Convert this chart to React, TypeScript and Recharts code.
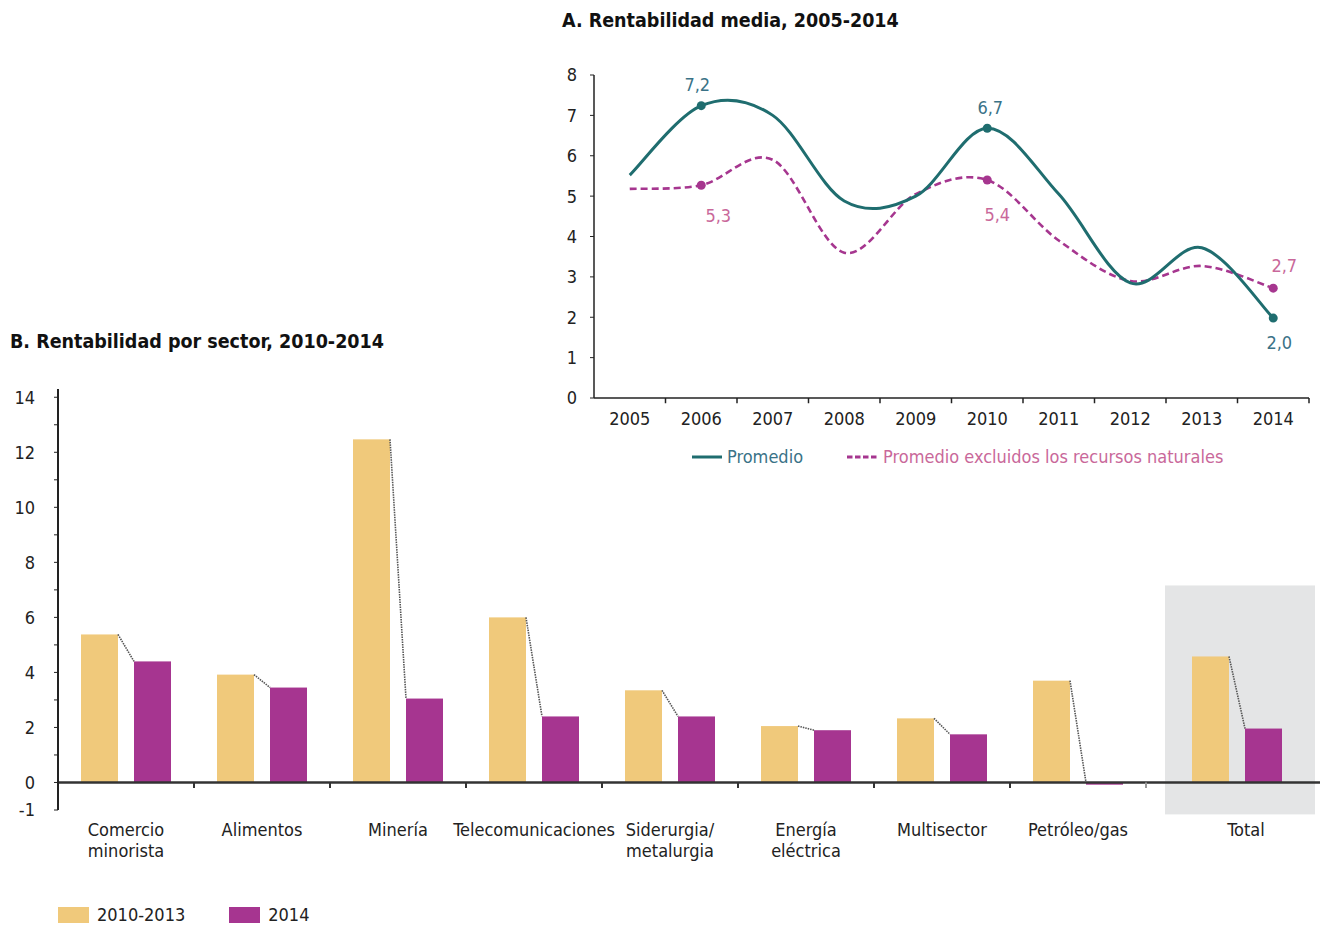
import React from "react";
import {
  LineChart,
  Line,
  BarChart,
  Bar,
  XAxis,
  YAxis,
  ReferenceLine,
  ReferenceArea,
  LabelList,
} from "recharts";

const FONT = '"Liberation Sans Narrow", "DejaVu Sans Condensed", "Arial Narrow", sans-serif';

// A. Rentabilidad media, 2005-2014
const YEARS = ["2005", "2006", "2007", "2008", "2009", "2010", "2011", "2012", "2013", "2014"];
const PROMEDIO = [5.52, 7.24, 7.0, 4.88, 5.0, 6.68, 5.05, 2.85, 3.72, 1.98];
const PROMEDIO_SIN_RRNN = [5.18, 5.27, 5.9, 3.6, 5.05, 5.4, 3.9, 2.9, 3.27, 2.72];
const A_TICKS = [0, 1, 2, 3, 4, 5, 6, 7, 8];
const LABELED_YEARS = ["2006", "2010", "2014"];

// B. Rentabilidad por sector, 2010-2014
const SECTORS = [
  "Comercio\nminorista",
  "Alimentos",
  "Minería",
  "Telecomunicaciones",
  "Siderurgia/\nmetalurgia",
  "Energía\neléctrica",
  "Multisector",
  "Petróleo/gas",
  "Total",
];
const R_2010_2013 = [5.38, 3.92, 12.47, 6.0, 3.35, 2.05, 2.33, 3.7, 4.58];
const R_2014 = [4.4, 3.45, 3.05, 2.4, 2.4, 1.9, 1.75, -0.08, 1.96];
const B_TICKS = [-1, 0, 1, 2, 3, 4, 5, 6, 7, 8, 9, 10, 11, 12, 13, 14];

const TEAL = "#1f6d6f";
const TEAL_TEXT = "#3a7287";
const MAGENTA = "#a6368f";
const PINK_TEXT = "#c9689a";
const YELLOW = "#f0c97b";
const PURPLE = "#a63590";

const BAR_SIZE = 37;
const BAR_GAP = 16;
const TOTAL_SHIFT = 23;
const FS = 18;

const lineData = YEARS.map((year, i) => ({
  year,
  promedio: PROMEDIO[i],
  sinRrnn: PROMEDIO_SIN_RRNN[i],
}));

const barData = SECTORS.map((sector, i) => ({
  sector,
  v1013: R_2010_2013[i],
  v14: R_2014[i],
}));

// excel-like smoothing (catmull-rom through the points)
const excelSmooth = (context: any) => {
  let pts: number[][] = [];
  return {
    areaStart() {},
    areaEnd() {},
    lineStart() {
      pts = [];
    },
    point(x: number, y: number) {
      pts.push([+x, +y]);
    },
    lineEnd() {
      if (!pts.length) return;
      context.moveTo(pts[0][0], pts[0][1]);
      for (let i = 0; i < pts.length - 1; i++) {
        const p0 = pts[Math.max(i - 1, 0)];
        const p1 = pts[i];
        const p2 = pts[i + 1];
        const p3 = pts[Math.min(i + 2, pts.length - 1)];
        context.bezierCurveTo(
          p1[0] + (p2[0] - p0[0]) / 6,
          p1[1] + (p2[1] - p0[1]) / 6,
          p2[0] - (p3[0] - p1[0]) / 6,
          p2[1] - (p3[1] - p1[1]) / 6,
          p2[0],
          p2[1]
        );
      }
    },
  };
};

const fmt = (v: number) => v.toFixed(1).replace(".", ",");

const makeDot = (color: string) => (p: any) =>
  LABELED_YEARS.includes(p.payload?.year) ? (
    <circle key={`dot-${p.index}`} cx={p.cx} cy={p.cy} r={4.5} fill={color} />
  ) : (
    <g key={`dot-${p.index}`} />
  );

const makeLabel =
  (color: string, offsets: Record<string, [number, number]>) => (p: any) => {
    const year = YEARS[p.index];
    if (!offsets[year]) return null;
    const [dx, dy] = offsets[year];
    return (
      <text
        x={p.x + dx}
        y={p.y + dy}
        fill={color}
        textAnchor="middle"
        dominantBaseline="central"
        fontSize={FS}
        fontFamily={FONT}
      >
        {fmt(Number(p.value))}
      </text>
    );
  };

const TEAL_LABELS: Record<string, [number, number]> = {
  "2006": [-4, -21],
  "2010": [3, -21],
  "2014": [6, 24],
};
const PINK_LABELS: Record<string, [number, number]> = {
  "2006": [17, 30],
  "2010": [10, 35],
  "2014": [11, -23],
};

const SectorTick = ({ x, y, payload }: any) => {
  const lines = String(payload.value).split("\n");
  const cx = payload.value === "Total" ? x + 32 : x;
  return (
    <text x={cx} y={y} textAnchor="middle" fill="#222" fontSize={FS} fontFamily={FONT}>
      {lines.map((l, i) => (
        <tspan key={i} x={cx} dy={i === 0 ? 18 : 21}>
          {l}
        </tspan>
      ))}
    </text>
  );
};

const FirstBar = (props: any) => {
  const { x, y, width, height, payload } = props;
  const shift = payload.sector === "Total" ? TOTAL_SHIFT : 0;
  const unit = height / payload.v1013;
  const base = y + height;
  const y2 = base - Math.max(payload.v14, 0) * unit;
  const x2 = x + width + BAR_GAP;
  return (
    <g>
      <rect x={x + shift} y={y} width={width} height={height} fill={YELLOW} />
      <line
        x1={x + width + shift}
        y1={y}
        x2={x2 + shift}
        y2={y2}
        stroke="#555"
        strokeWidth={1.6}
        strokeDasharray="1.5 1"
      />
    </g>
  );
};

const SecondBar = (props: any) => {
  const { x, y, width, height, payload } = props;
  const shift = payload.sector === "Total" ? TOTAL_SHIFT : 0;
  return (
    <rect
      x={x + shift}
      y={Math.min(y, y + height)}
      width={width}
      height={Math.max(Math.abs(height), 2)}
      fill={PURPLE}
    />
  );
};

const TotalBox = (props: any) => {
  const { x, y, width, height } = props;
  return <rect x={x + 19} y={y} width={width + 14} height={height} fill="#e4e5e6" />;
};

const tickStyle = { fill: "#222", fontSize: FS, fontFamily: FONT };

export default function App() {
  return (
    <div style={{ position: "relative", width: 1314, height: 918, fontFamily: FONT }}>
      <div
        style={{
          position: "absolute",
          left: 554,
          top: 1,
          fontSize: 19.5,
          fontWeight: "bold",
          color: "#111",
        }}
      >
        A. Rentabilidad media, 2005-2014
      </div>

      <div style={{ position: "absolute", left: 532, top: 52 }}>
        <LineChart
          width={781}
          height={380}
          data={lineData}
          margin={{ top: 15, right: 12, left: 0, bottom: 0 }}
        >
          <XAxis
            dataKey="year"
            scale="band"
            axisLine={{ stroke: "#222", strokeWidth: 1.5 }}
            tickLine={false}
            tickSize={0}
            tickMargin={14}
            height={42}
            interval={0}
            tick={tickStyle}
          />
          <YAxis
            domain={[0, 8]}
            ticks={A_TICKS}
            interval={0}
            width={54}
            axisLine={{ stroke: "#222", strokeWidth: 1.5 }}
            tickLine={{ stroke: "#222" }}
            tickSize={4}
            tickMargin={13}
            tick={tickStyle}
          />
          {YEARS.slice(1).map((yr) => (
            <ReferenceLine
              key={`ta-${yr}`}
              segment={[
                { x: yr, y: 0 },
                { x: yr, y: -0.13 },
              ]}
              position="start"
              ifOverflow="visible"
              stroke="#222"
              strokeWidth={1.5}
            />
          ))}
          <ReferenceLine
            segment={[
              { x: YEARS[YEARS.length - 1], y: 0 },
              { x: YEARS[YEARS.length - 1], y: -0.13 },
            ]}
            position="end"
            ifOverflow="visible"
            stroke="#222"
            strokeWidth={1.5}
          />
          <Line
            dataKey="sinRrnn"
            type={excelSmooth as any}
            stroke={MAGENTA}
            strokeWidth={2.6}
            strokeDasharray="7 4"
            dot={makeDot(MAGENTA)}
            activeDot={false}
            isAnimationActive={false}
          >
            <LabelList dataKey="sinRrnn" content={makeLabel(PINK_TEXT, PINK_LABELS)} />
          </Line>
          <Line
            dataKey="promedio"
            type={excelSmooth as any}
            stroke={TEAL}
            strokeWidth={3}
            dot={makeDot(TEAL)}
            activeDot={false}
            isAnimationActive={false}
          >
            <LabelList dataKey="promedio" content={makeLabel(TEAL_TEXT, TEAL_LABELS)} />
          </Line>
        </LineChart>
      </div>

      <div
        style={{
          position: "absolute",
          left: 684,
          top: 438,
          display: "flex",
          alignItems: "center",
          fontSize: FS,
          lineHeight: "22px",
          whiteSpace: "nowrap",
        }}
      >
        <svg width={30} height={6}>
          <line x1={0} y1={3} x2={30} y2={3} stroke={TEAL} strokeWidth={3} />
        </svg>
        <span style={{ color: TEAL_TEXT, marginLeft: 5 }}>Promedio</span>
        <svg width={30} height={6} style={{ marginLeft: 44 }}>
          <line
            x1={0}
            y1={3}
            x2={30}
            y2={3}
            stroke={MAGENTA}
            strokeWidth={3}
            strokeDasharray="5.5 2.5"
          />
        </svg>
        <span style={{ color: PINK_TEXT, marginLeft: 6 }}>
          Promedio excluidos los recursos naturales
        </span>
      </div>

      <div
        style={{
          position: "absolute",
          left: 2,
          top: 322,
          fontSize: 19.5,
          fontWeight: "bold",
          color: "#111",
        }}
      >
        B. Rentabilidad por sector, 2010-2014
      </div>

      <div style={{ position: "absolute", left: 0, top: 371 }}>
        <BarChart
          width={1314}
          height={491}
          data={barData}
          margin={{ top: 10, right: 2, left: 0, bottom: 0 }}
          barGap={BAR_GAP}
          barSize={BAR_SIZE}
        >
          <ReferenceArea
            x1="Total"
            x2="Total"
            y1={-1.16}
            y2={7.16}
            ifOverflow="visible"
            shape={<TotalBox />}
          />
          <XAxis
            dataKey="sector"
            axisLine={false}
            tickLine={false}
            tickSize={0}
            tickMargin={8}
            interval={0}
            height={60}
            padding={{ left: 0, right: 38 }}
            tick={<SectorTick />}
          />
          <YAxis
            domain={[-1, 14.3]}
            ticks={B_TICKS}
            interval={0}
            allowDataOverflow
            width={50}
            axisLine={{ stroke: "#222", strokeWidth: 2 }}
            tickLine={{ stroke: "#222" }}
            tickSize={4}
            tickMargin={19}
            tick={tickStyle}
            tickFormatter={(v: number) => (v === -1 || v % 2 === 0 ? String(v) : "")}
          />
          <Bar dataKey="v1013" fill={YELLOW} shape={<FirstBar />} isAnimationActive={false} />
          <Bar dataKey="v14" fill={PURPLE} shape={<SecondBar />} isAnimationActive={false} />
          <ReferenceLine y={0} stroke="#333" strokeWidth={2.5} />
          {SECTORS.slice(1).map((s) => (
            <ReferenceLine
              key={`tb-${s}`}
              segment={[
                { x: s, y: 0 },
                { x: s, y: -0.2 },
              ]}
              position="start"
              ifOverflow="visible"
              stroke={s === "Total" ? "#999" : "#333"}
              strokeWidth={2}
            />
          ))}
        </BarChart>
      </div>

      <div
        style={{
          position: "absolute",
          left: 50,
          top: 897,
          display: "flex",
          alignItems: "center",
          fontSize: FS,
          lineHeight: "20px",
          color: "#222",
          whiteSpace: "nowrap",
        }}
      >
        <span style={{ width: 31, height: 16, background: YELLOW, display: "inline-block" }} />
        <span style={{ marginLeft: 8 }}>2010-2013</span>
        <span
          style={{
            width: 31,
            height: 16,
            background: PURPLE,
            display: "inline-block",
            marginLeft: 44,
          }}
        />
        <span style={{ marginLeft: 8 }}>2014</span>
      </div>
    </div>
  );
}
